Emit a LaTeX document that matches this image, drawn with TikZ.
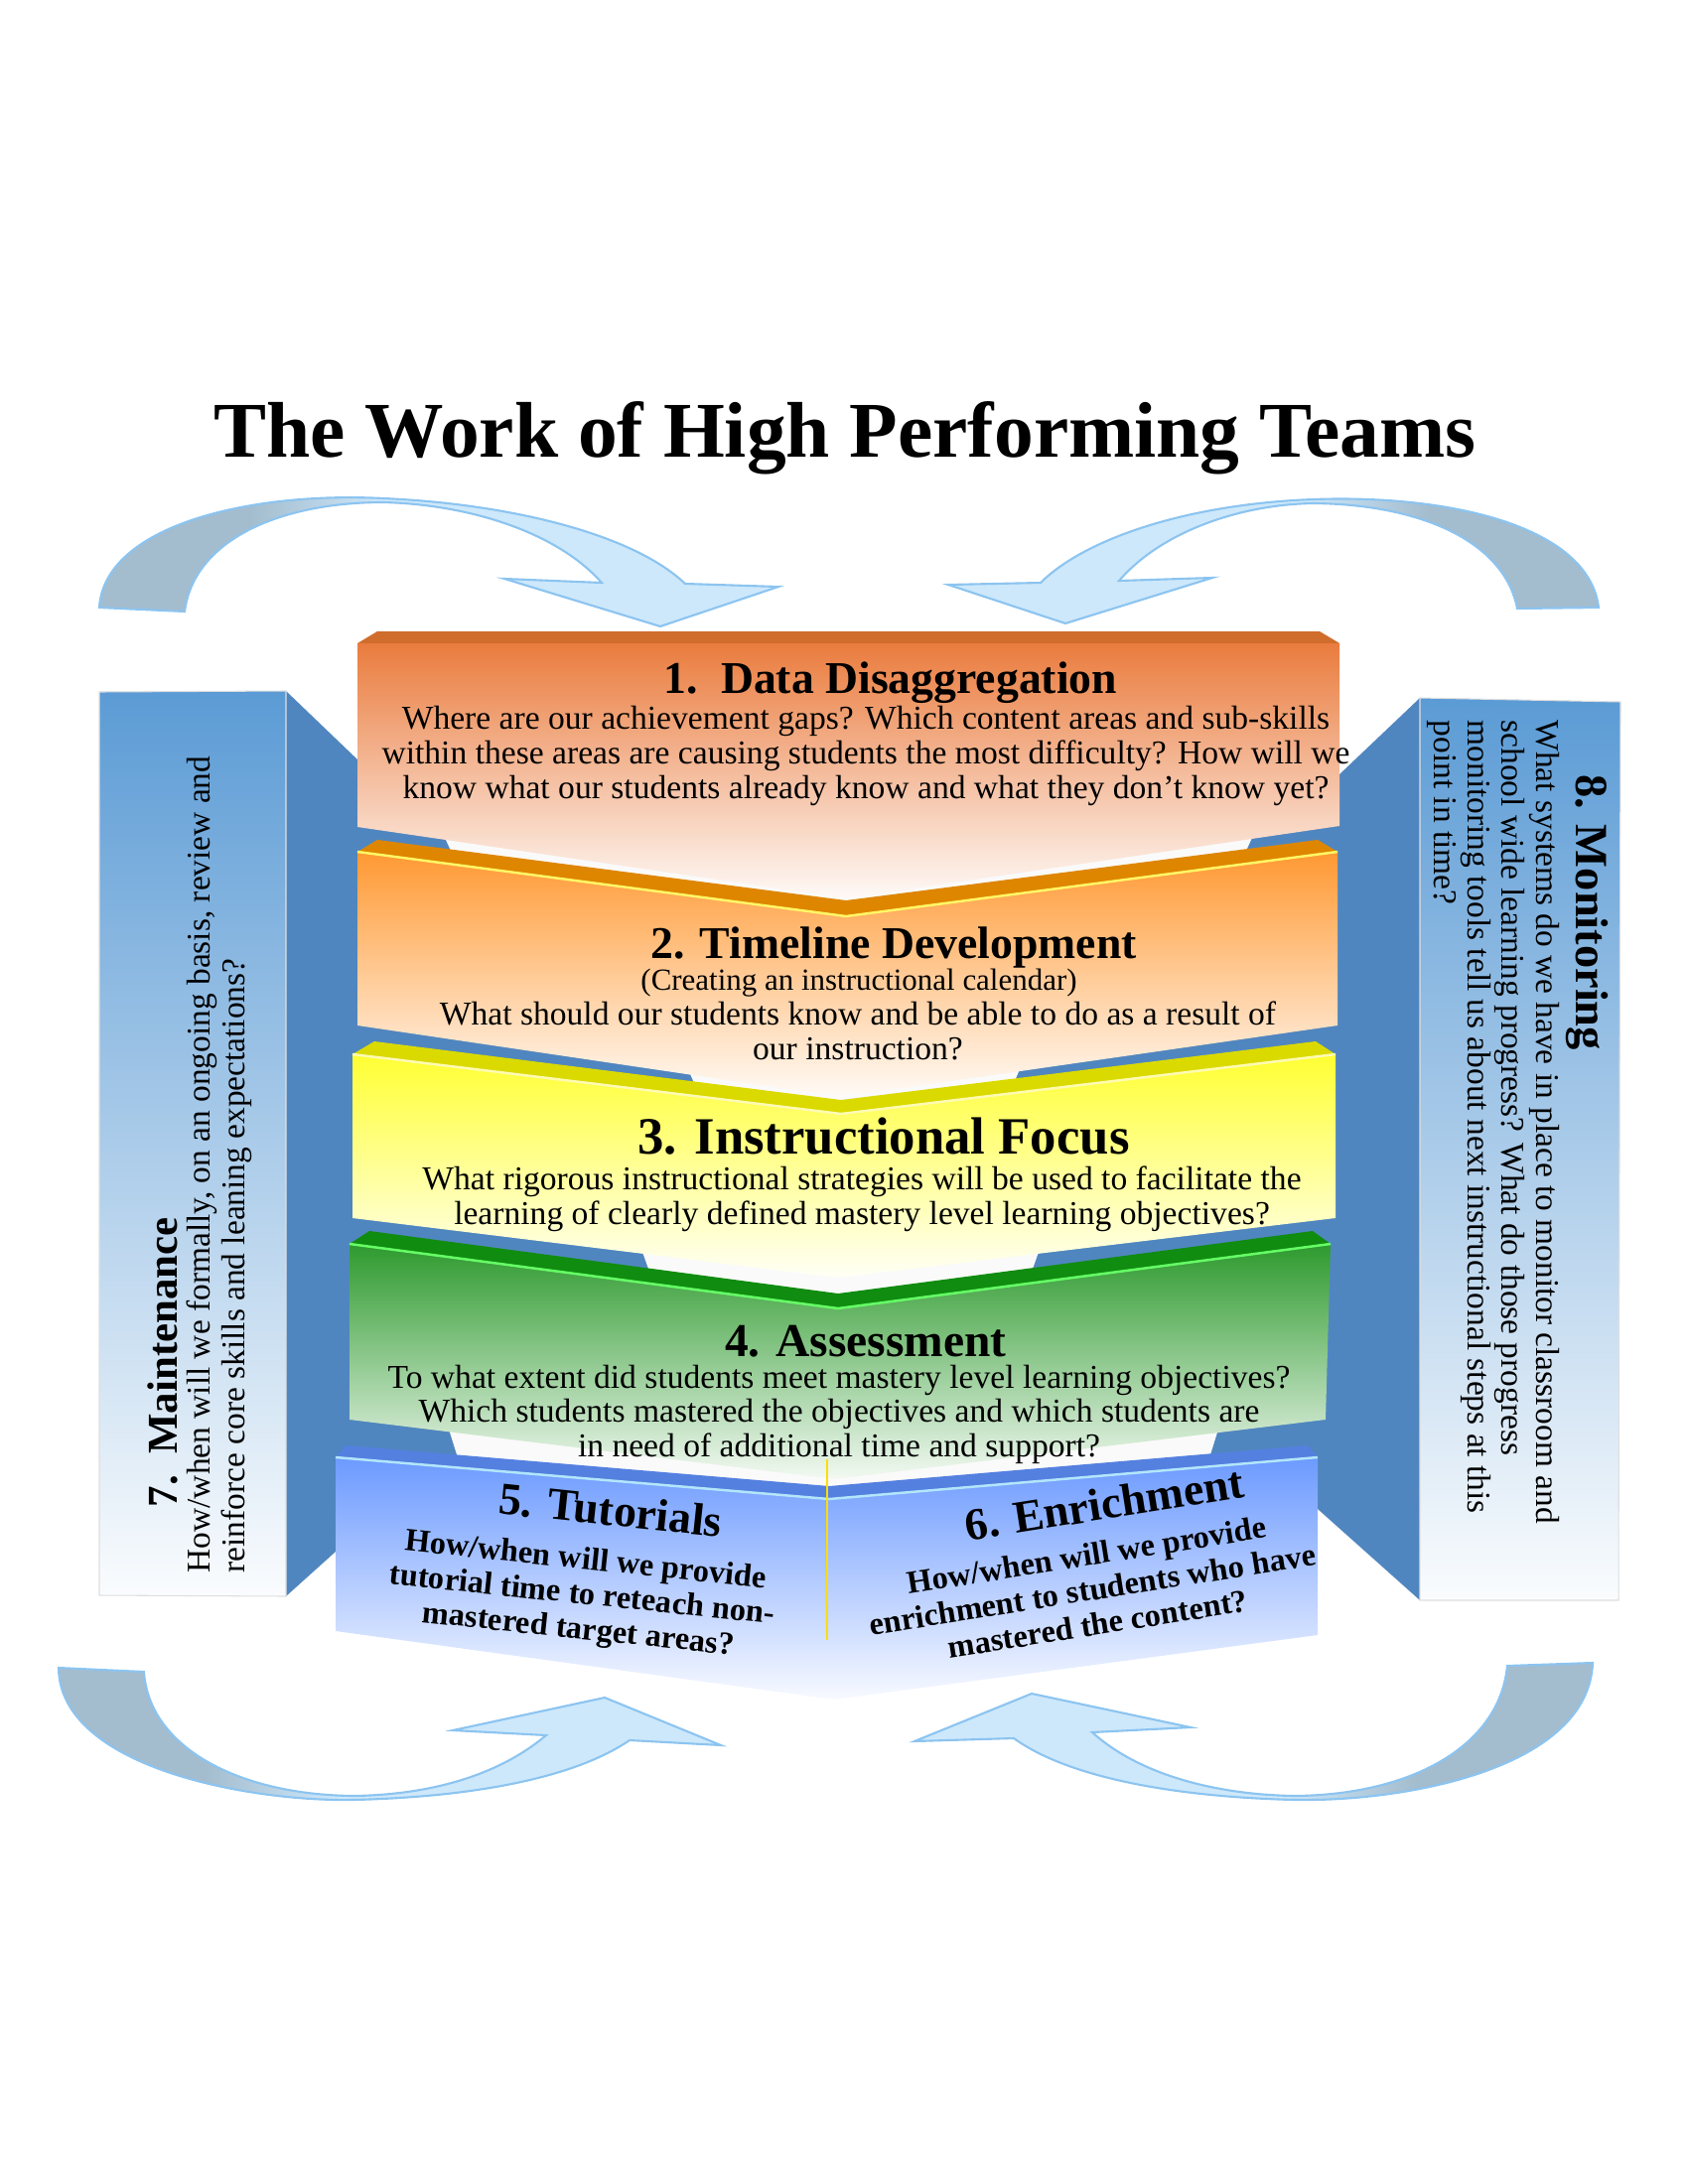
\documentclass[tikz,border=0pt]{standalone}
\usepackage{fontspec}
\setmainfont{Liberation Serif}
\usetikzlibrary{calc}
\definecolor{arrowlight}{RGB}{205,232,251}
\definecolor{arrowgray}{RGB}{163,188,206}
\definecolor{arrowline}{RGB}{140,196,240}
\definecolor{slabblue}{RGB}{80,134,191}
\definecolor{panelblue}{RGB}{91,155,213}
\definecolor{bevelone}{RGB}{208,108,44}
\definecolor{faceone}{RGB}{234,124,62}
\definecolor{beveltwo}{RGB}{222,134,0}
\definecolor{facetwo}{RGB}{255,153,51}
\definecolor{bevelthree}{RGB}{218,218,0}
\definecolor{facethree}{RGB}{255,255,51}
\definecolor{bevelfour}{RGB}{16,140,16}
\definecolor{facefour}{RGB}{46,154,46}
\definecolor{bevelfive}{RGB}{84,128,224}
\definecolor{facefive}{RGB}{108,154,255}
\pgfdeclarehorizontalshading{loopleft}{100bp}{color(0bp)=(arrowgray); color(36bp)=(arrowgray); color(46bp)=(arrowlight); color(100bp)=(arrowlight)}
\pgfdeclarehorizontalshading{loopright}{100bp}{color(0bp)=(arrowlight); color(52bp)=(arrowlight); color(62bp)=(arrowgray); color(100bp)=(arrowgray)}

\begin{document}
\begin{tikzpicture}[x=0.01cm,y=-0.01cm, every node/.style={inner sep=0pt}]
    \tikzset{loopshape/.style={draw=arrowline,line width=0.6pt}}
    \tikzset{panelface/.style={top color=panelblue,bottom color=white!97!panelblue,draw=gray!25,line width=0.3pt}}
    \tikzset{gapface/.style={fill=white!96!gray}}
    \tikzset{boxtitle/.style={font=\fontsize{13}{15}\selectfont\bfseries,anchor=base}}
    \tikzset{boxtext/.style={font=\fontsize{9.55}{11}\selectfont,anchor=base}}
    \tikzset{sidetitle/.style={font=\fontsize{12.2}{14}\selectfont\bfseries,anchor=base west}}
    \tikzset{sidetext/.style={font=\fontsize{9.5}{11}\selectfont,anchor=base west}}
    \tikzset{tuttitle/.style={font=\fontsize{13}{15}\selectfont\bfseries}}
    \tikzset{tuttext/.style={font=\fontsize{9.2}{10}\selectfont\bfseries,align=center}}
    \useasboundingbox (0,0) rectangle (1700,2200);

    \node[font=\fontsize{22.6}{26}\selectfont\bfseries,anchor=base] (title) at (851,460) {The Work of High Performing Teams};

    % Loops
    \shadedraw[shading=loopleft,loopshape] (100,612) .. controls (105,530) and (250,495) .. (386,502)
      .. controls (520,508) and (640,540) .. (690,588) -- (784,591) -- (665,631) -- (508,583) -- (606,587)
      .. controls (560,535) and (470,508) .. (386,506) .. controls (280,506) and (195,545) .. (186,616) -- cycle;
    \shadedraw[shading=loopright,loopshape] (1610,612) .. controls (1600,530) and (1460,498) .. (1323,503)
      .. controls (1190,508) and (1090,545) .. (1048,587) -- (955,589) -- (1073,628) -- (1221,582) -- (1127,585)
      .. controls (1170,535) and (1250,508) .. (1323,507) .. controls (1430,508) and (1515,545) .. (1528,613) -- cycle;
    \shadedraw[shading=loopleft,loopshape] (59,1680) .. controls (60,1780) and (250,1815) .. (356,1813)
      .. controls (480,1810) and (580,1790) .. (634,1753) -- (726,1758) -- (609,1710) -- (456,1743) -- (550,1748)
      .. controls (500,1790) and (430,1808) .. (356,1809) .. controls (240,1808) and (150,1760) .. (145,1684) -- cycle;
    \shadedraw[shading=loopright,loopshape] (1604,1675) .. controls (1600,1780) and (1420,1815) .. (1304,1813)
      .. controls (1180,1810) and (1075,1790) .. (1021,1751) -- (921,1754) -- (1039,1706) -- (1199,1740) -- (1100,1745)
      .. controls (1150,1790) and (1230,1808) .. (1304,1809) .. controls (1420,1808) and (1510,1760) .. (1518,1678) -- cycle;

    % Slab and panels
    \fill[slabblue] (288,696) -- (362,767) -- (1349,780) -- (1430,703) -- (1430,1612) -- (1327,1520) -- (338,1563) -- (288,1608) -- cycle;
    \shade[panelface] (100,697) -- (288,696) -- (288,1608) -- (100,1607) -- cycle;
    \shade[panelface] (1430,703) -- (1632,707) -- (1630,1612) -- (1430,1612) -- cycle;

    % Gaps
    \fill[gapface] (444,835) -- (852,898) -- (1265,835) -- (1250,868) -- (852,915) -- (459,868) -- cycle;
    \fill[gapface] (690,1070) -- (847,1098) -- (1030,1070) -- (1015,1105) -- (847,1120) -- (705,1105) -- cycle;
    \fill[gapface] (643,1250) -- (844,1280) -- (1050,1250) -- (1035,1292) -- (844,1312) -- (658,1292) -- cycle;
    \fill[gapface] (449,1430) -- (840,1485) -- (1230,1430) -- (1215,1478) -- (840,1505) -- (464,1478) -- cycle;

    % Box 1
    \fill[bevelone] (360,648) -- (380,636) -- (1329,636) -- (1349,648) -- cycle;
    \shade[top color=faceone,bottom color=white!96!faceone] (360,648) -- (1349,648) -- (1349,832) -- (852,905) -- (360,833) -- cycle;
    % Box 2
    \fill[beveltwo] (360,858) -- (380,846) -- (852,907) -- (1327,846) -- (1347,858) -- (852,923) -- cycle;
    \shade[top color=facetwo,bottom color=white!96!facetwo] (360,858) -- (852,923) -- (1347,858) -- (1347,1033) -- (847,1105) -- (360,1033) -- cycle;
    \draw[yellow!60,line width=0.7pt] (360,858) -- (852,923) -- (1347,858);
    % Box 3
    \fill[bevelthree] (355,1062) -- (377,1049) -- (847,1108) -- (1325,1049) -- (1345,1062) -- (847,1122) -- cycle;
    \shade[top color=facethree,bottom color=white!96!facethree] (355,1062) -- (847,1122) -- (1345,1062) -- (1345,1227) -- (844,1287) -- (355,1227) -- cycle;
    \draw[yellow!30,line width=0.7pt] (355,1062) -- (847,1122) -- (1345,1062);
    % Box 4
    \fill[bevelfour] (352,1253) -- (372,1240) -- (844,1303) -- (1322,1240) -- (1340,1253) -- (844,1318) -- cycle;
    \shade[top color=facefour,bottom color=white!94!facefour] (352,1253) -- (844,1318) -- (1340,1253) -- (1335,1430) -- (840,1490) -- (352,1430) -- cycle;
    \draw[green!60!white,line width=0.7pt] (352,1253) -- (844,1318) -- (1340,1253);
    % Box 5
    \fill[bevelfive] (338,1468) -- (348,1456) -- (835,1497) -- (1317,1456) -- (1327,1468) -- (835,1510) -- cycle;
    \shade[top color=facefive,bottom color=white!95!facefive] (338,1468) -- (835,1510) -- (1327,1468) -- (1327,1647) -- (840,1712) -- (338,1643) -- cycle;
    \draw[cyan!30,line width=0.7pt] (338,1468) -- (835,1510) -- (1327,1468);
    \draw[yellow!80!orange,line width=0.6pt] (833,1470) -- (833,1652);

    % Box texts
    \node[boxtitle] (dd) at (897,698) {1.\ \ Data Disaggregation};
    \foreach \t [count=\i] in {{Where are our achievement gaps? Which content areas and sub-skills},{within these areas are causing students the most difficulty? How will we},{know what our students already know and what they don’t know yet?}}
      \node[boxtext] (dd\i) at (872,{734+35*(\i-1)}) {\t};
    \node[boxtitle] (td) at (900,965) {2. Timeline Development};
    \node[boxtext,font=\fontsize{8.8}{10}\selectfont] (tdcal) at (865,997) {(Creating an instructional calendar)};
    \foreach \t [count=\i] in {{What should our students know and be able to do as a result of},{our instruction?}}
      \node[boxtext] (td\i) at (864,{1032+35*(\i-1)}) {\t};
    \node[boxtitle,font=\fontsize{15}{17}\selectfont\bfseries] (if) at (890,1162) {3. Instructional Focus};
    \foreach \t [count=\i] in {{What rigorous instructional strategies will be used to facilitate the},{learning of clearly defined mastery level learning objectives?}}
      \node[boxtext] (if\i) at (868,{1198+35*(\i-1)}) {\t};
    \node[boxtitle,font=\fontsize{13.5}{15}\selectfont\bfseries] (as) at (872,1366) {4. Assessment};
    \foreach \t [count=\i] in {{To what extent did students meet mastery level learning objectives?},{Which students mastered the objectives and which students are},{in need of additional time and support?}}
      \node[boxtext] (as\i) at (845,{1398+34.5*(\i-1)}) {\t};

    % Tutorials / Enrichment
    \node[tuttitle,rotate=-6] (tut) at (615,1521) {5. Tutorials};
    \node[tuttext,rotate=-6] (tutbody) at (586,1608) {How/when will we provide\\tutorial time to reteach non-\\mastered target areas?};
    \node[tuttitle,rotate=9] (enr) at (1112,1515) {6. Enrichment};
    \node[tuttext,rotate=9] (enrbody) at (1100,1601) {How/when will we provide\\enrichment to students who have\\mastered the content?};

    % Side panels
    \node[sidetitle,rotate=90] (mnt) at (178,1519) {7.\ \ Maintenance};
    \foreach \t [count=\i] in {{How/when will we formally, on an ongoing basis, review and},{reinforce core skills and leaning expectations?}}
      \node[sidetext,rotate=90] (mnt\i) at ({211+35*(\i-1)},1585) {\t};
    \node[sidetitle,rotate=-90,font=\fontsize{13.2}{15}\selectfont\bfseries] (mon) at (1587,780) {8. Monitoring};
    \foreach \t [count=\i] in {{What systems do we have in place to monitor classroom and},{school wide learning progress? What do those progress},{monitoring tools tell us about next instructional steps at this},{point in time?}}
      \node[sidetext,rotate=-90] (mon\i) at ({1547-34.3*(\i-1)},725) {\t};
\end{tikzpicture}
\end{document}
